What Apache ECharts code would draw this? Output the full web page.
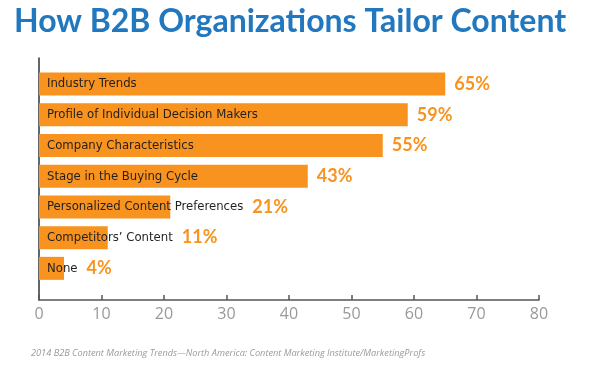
<!DOCTYPE html>
<html>
<head>
<meta charset="utf-8">
<script src="https://cdn.jsdelivr.net/npm/echarts@6/dist/echarts.min.js"></script>
<style>html,body{margin:0;padding:0;background:#fff}#c{width:596px;height:371px}</style>
</head>
<body>
<div id="c"></div>
<script>
const categories = ["Industry Trends","Profile of Individual Decision Makers","Company Characteristics","Stage in the Buying Cycle","Personalized Content Preferences","Competitors’ Content","None"];
const values = [65, 59, 55, 43, 21, 11, 4];
const xTicks = [0, 10, 20, 30, 40, 50, 60, 70, 80];
const titleText = "How B2B Organizations Tailor Content";
const sourceText = "2014 B2B Content Marketing Trends—North America: Content Marketing Institute/MarketingProfs";

const ORANGE = '#F7931E';
const NAME_SIZE = 13;
const NAME_FAMILY = '"DejaVu Sans Condensed", "Liberation Sans Narrow", sans-serif';
const NAME_FONT = NAME_SIZE + 'px ' + NAME_FAMILY;
const GL = 39, GR = 57;

const chart = echarts.init(document.getElementById('c'), null, {renderer: 'canvas'});

function buildOption(offsets) {
  return {
    animation: false,
    title: [
      {text: titleText, left: 14, top: 6, padding: 0, textStyle: {fontFamily: 'Lato', fontWeight: 'bold', fontSize: 32, color: '#2278BE'}},
      {text: sourceText, left: 31, top: 349, padding: 0, textStyle: {fontFamily: '"Open Sans"', fontStyle: 'italic', fontWeight: 'normal', fontSize: 9.2, color: '#9a9a9a'}}
    ],
    grid: [
      {left: GL, right: GR, top: 58, bottom: 71},
      {left: GL, right: GR, top: 68.7, height: 215}
    ],
    xAxis: [
      {gridIndex: 0, type: 'value', min: xTicks[0], max: xTicks[xTicks.length-1], interval: xTicks[1]-xTicks[0],
       axisLine: {show: true, lineStyle: {color: '#555', width: 1.5}},
       axisTick: {show: true, inside: true, length: 5, lineStyle: {color: '#555', width: 1.5}},
       axisLabel: {color: '#999', fontSize: 16, fontFamily: '"Open Sans"', margin: 6},
       splitLine: {show: false}},
      {gridIndex: 1, type: 'value', min: xTicks[0], max: xTicks[xTicks.length-1], show: false}
    ],
    yAxis: [
      {gridIndex: 0, type: 'value', min: 0, max: 1, axisLine: {show: true, lineStyle: {color: '#333', width: 1.5}},
       axisTick: {show: false}, axisLabel: {show: false}, splitLine: {show: false}},
      {gridIndex: 1, type: 'category', data: categories, inverse: true, show: false}
    ],
    series: [
      {
        type: 'bar', xAxisIndex: 1, yAxisIndex: 1, barWidth: 23,
        itemStyle: {color: ORANGE},
        data: values.map((v, i) => ({
          value: v,
          label: {show: true, position: 'right', distance: 9, offset: [offsets ? offsets[i] : 0, 0]}
        })),
        label: {show: true, formatter: p => p.value + '%', color: ORANGE, fontSize: 18, fontWeight: 'bold', fontFamily: 'Lato'}
      },
      {
        type: 'bar', xAxisIndex: 1, yAxisIndex: 1, barWidth: 23, barGap: '-100%',
        itemStyle: {color: 'rgba(0,0,0,0)'},
        data: values,
        silent: true,
        label: {show: true, position: 'insideLeft', distance: 8, formatter: p => p.name,
                color: '#231F20', fontSize: NAME_SIZE, fontFamily: NAME_FAMILY}
      }
    ]
  };
}

chart.setOption(buildOption(null));

// measure name text widths to place the value labels after whichever ends later: bar or text
const ctx = document.createElement('canvas').getContext('2d');
ctx.font = NAME_FONT;
const offsets = values.map((v, i) => {
  const barEnd = chart.convertToPixel({xAxisIndex: 1, yAxisIndex: 1}, [v, i])[0];
  const barStart = chart.convertToPixel({xAxisIndex: 1, yAxisIndex: 1}, [0, i])[0];
  const textEnd = barStart + 8 + ctx.measureText(categories[i]).width;
  return Math.max(0, textEnd - barEnd);
});
chart.setOption(buildOption(offsets));
</script>
</body>
</html>
